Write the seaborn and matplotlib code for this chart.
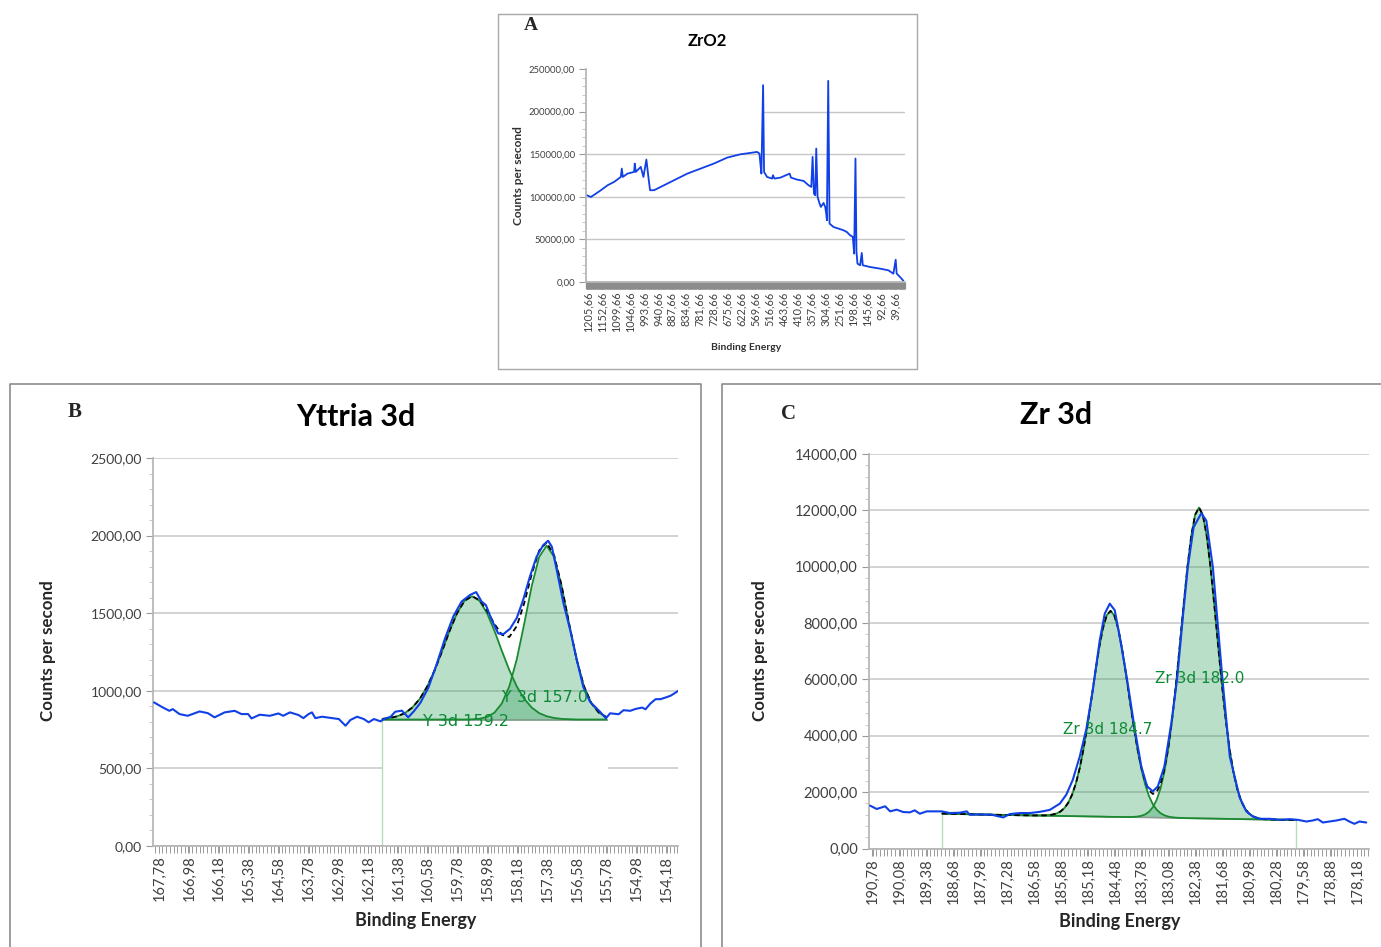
import seaborn as sns
import matplotlib.pyplot as plt
from matplotlib.lines import Line2D
from matplotlib.patches import Rectangle
from matplotlib.ticker import FixedLocator, MultipleLocator, FuncFormatter

# ---------------- panel A : ZrO2 survey ----------------
survey_be = [1210.6, 1195.4, 1176.4, 1157.5, 1132.2, 1107.0, 1081.7, 1077.9, 1074.1, 1056.4,
             1031.1, 1028.6, 1024.8, 1012.2, 1005.8, 995.7, 984.4, 976.8, 970.5, 955.3,
             930.0, 879.5, 828.9, 778.4, 727.9, 677.3, 626.8, 588.9, 563.6, 554.7,
             551.0, 547.2, 540.8, 537.1, 525.7, 506.7, 503.1, 497.9, 475.1, 439.8,
             434.7, 411.9, 386.7, 367.7, 357.6, 352.6, 347.5, 342.5, 338.7, 333.6,
             326.0, 321.0, 310.9, 304.6, 300.8, 298.2, 293.2, 288.1, 273.0, 235.1,
             222.4, 209.8, 199.7, 194.6, 189.6, 185.8, 182.0, 171.9, 165.6, 161.8,
             134.0, 96.1, 64.5, 45.5, 36.7, 32.9, 20.2, 7.6]
survey_cps = [101800, 99800, 103700, 107700, 113500, 117500, 123300, 133100, 123300, 127200,
              129200, 139000, 129200, 133100, 135100, 123300, 143700, 123300, 107700, 107700,
              111600, 119400, 127200, 133100, 139000, 146000, 149900, 151500, 152700, 150700,
              139000, 127200, 231000, 129200, 123300, 121400, 125300, 121400, 122500, 127200,
              122500, 120200, 118600, 113500, 111600, 146800, 103700, 101800, 156600, 99800,
              92000, 88100, 92800, 88100, 80300, 72400, 236100, 68500, 64600, 60700,
              58700, 54800, 52900, 33300, 144900, 35200, 21500, 19600, 34100, 19600,
              17600, 15700, 13700, 9800, 26200, 9800, 5900, 1500]
survey_ticks = [1205.66, 1152.66, 1099.66, 1046.66, 993.66, 940.66, 887.66, 834.66, 781.66,
                728.66, 675.66, 622.66, 569.66, 516.66, 463.66, 410.66, 357.66, 304.66,
                251.66, 198.66, 145.66, 92.66, 39.66]

# ---------------- panel B : Yttria 3d ----------------
yt_be = [167.92, 167.69, 167.51, 167.42, 167.24, 167.02, 166.70, 166.48, 166.30, 166.03,
         165.76, 165.58, 165.40, 165.31, 165.09, 164.82, 164.59, 164.46, 164.28, 164.05,
         163.92, 163.78, 163.69, 163.60, 163.42, 163.15, 162.97, 162.79, 162.66, 162.48,
         162.30, 162.17, 162.03, 161.85, 161.78, 161.58, 161.46, 161.28, 161.11, 160.97,
         160.79, 160.57, 160.35, 160.12, 159.90, 159.68, 159.45, 159.29, 159.14, 159.03,
         158.87, 158.70, 158.56, 158.38, 158.20, 158.03, 157.85, 157.67, 157.49, 157.36,
         157.26, 157.13, 156.95, 156.77, 156.59, 156.42, 156.24, 155.97, 155.81, 155.70,
         155.47, 155.34, 155.16, 155.02, 154.84, 154.75, 154.62, 154.48, 154.35, 154.21,
         154.08, 153.94, 153.85]
yt_cps = [925, 893, 871, 882, 850, 839, 867, 856, 829, 861,
          871, 850, 850, 822, 846, 839, 854, 839, 861, 844,
          824, 850, 861, 824, 833, 824, 818, 775, 812, 833,
          818, 797, 818, 803, 816, 833, 865, 872, 829, 865,
          920, 1020, 1170, 1340, 1480, 1575, 1618, 1636, 1574, 1553,
          1456, 1370, 1365, 1400, 1470, 1585, 1735, 1864, 1939, 1967,
          1928, 1778, 1564, 1392, 1198, 1026, 930, 865, 823, 855,
          849, 875, 871, 883, 892, 881, 918, 946, 946, 957,
          968, 989, 1004]
yt_fit_be = [161.8, 161.6, 161.4, 161.2, 161.0, 160.8, 160.6, 160.4, 160.2, 160.0,
             159.8, 159.6, 159.4, 159.2, 159.0, 158.8, 158.6, 158.4, 158.2, 158.0,
             157.8, 157.6, 157.4, 157.2, 157.0, 156.8, 156.6, 156.4, 156.2, 156.0, 155.8]
yt_fit_p1 = [819, 825, 836, 856, 892, 948, 1028, 1133, 1257, 1387,
             1501, 1580, 1609, 1580, 1501, 1387, 1257, 1133, 1028, 948,
             892, 856, 836, 825, 819, 817, 815, 815, 815, 815, 815]
yt_fit_p2 = [815, 815, 815, 815, 815, 815, 815, 815, 815, 815,
             815, 815, 816, 820, 831, 859, 919, 1029, 1204, 1433,
             1675, 1863, 1935, 1863, 1675, 1433, 1204, 1029, 919, 859, 831]
yt_fit_env = [819, 825, 836, 856, 892, 948, 1028, 1133, 1257, 1387,
              1501, 1580, 1610, 1585, 1517, 1431, 1361, 1347, 1417, 1566,
              1752, 1904, 1956, 1873, 1679, 1435, 1204, 1029, 919, 859, 831]
yt_background = 815
yt_fit_range = [161.81, 155.76]
yt_peak_names = ["Y 3d 159.2", "Y 3d 157.0"]
yt_ticks = [167.78, 166.98, 166.18, 165.38, 164.58, 163.78, 162.98, 162.18, 161.38,
            160.58, 159.78, 158.98, 158.18, 157.38, 156.58, 155.78, 154.98, 154.18]

# ---------------- panel C : Zr 3d ----------------
zr_be = [190.85, 190.68, 190.46, 190.33, 190.16, 189.99, 189.82, 189.69, 189.56, 189.38,
         189.21, 188.99, 188.78, 188.52, 188.34, 188.26, 188.00, 187.69, 187.39, 187.22,
         186.96, 186.70, 186.44, 186.18, 185.92, 185.75, 185.58, 185.40, 185.23, 185.06,
         184.88, 184.75, 184.62, 184.49, 184.36, 184.17, 183.97, 183.80, 183.65, 183.50,
         183.37, 183.20, 183.02, 182.87, 182.72, 182.59, 182.44, 182.24, 182.11, 181.94,
         181.69, 181.50, 181.24, 181.07, 180.90, 180.72, 180.46, 180.20, 179.94, 179.73,
         179.51, 179.34, 179.21, 179.08, 178.91, 178.73, 178.52, 178.39, 178.26, 178.13,
         177.95]
zr_cps = [1521, 1402, 1497, 1318, 1378, 1294, 1282, 1354, 1234, 1318,
          1318, 1318, 1258, 1270, 1318, 1198, 1210, 1198, 1102, 1222,
          1258, 1258, 1300, 1370, 1590, 1910, 2441, 3266, 4233, 5624,
          7392, 8336, 8689, 8453, 7510, 6001, 4233, 2912, 2205, 2028,
          2205, 2912, 4445, 6001, 8218, 9986, 11401, 11896, 11637, 9986,
          6001, 3266, 1800, 1318, 1138, 1054, 1054, 1018, 1042, 1018,
          958, 994, 1042, 922, 958, 994, 1054, 958, 875, 958,
          922]
zr_fit_be = [188.98, 188.0, 187.0, 186.6, 186.3, 186.2, 186.1, 186.0, 185.9, 185.8,
             185.7, 185.6, 185.5, 185.4, 185.3, 185.2, 185.1, 185.0, 184.9, 184.8,
             184.7, 184.6, 184.5, 184.4, 184.3, 184.2, 184.1, 184.0, 183.9, 183.8,
             183.7, 183.6, 183.5, 183.4, 183.3, 183.2, 183.1, 183.0, 182.9, 182.8,
             182.7, 182.6, 182.5, 182.4, 182.3, 182.2, 182.1, 182.0, 181.9, 181.8,
             181.7, 181.6, 181.5, 181.4, 181.3, 181.2, 181.1, 181.0, 180.9, 180.8,
             180.7, 180.6, 180.2, 179.77]
zr_fit_bg = [1240, 1206, 1182, 1173, 1165, 1163, 1161, 1158, 1156, 1153,
             1151, 1149, 1146, 1144, 1141, 1139, 1136, 1134, 1132, 1129,
             1127, 1124, 1122, 1120, 1117, 1115, 1112, 1110, 1108, 1105,
             1103, 1100, 1098, 1096, 1093, 1091, 1088, 1086, 1084, 1081,
             1079, 1076, 1074, 1072, 1069, 1067, 1064, 1062, 1060, 1057,
             1055, 1052, 1050, 1048, 1045, 1043, 1040, 1038, 1036, 1033,
             1031, 1028, 1020, 1012]
zr_fit_p1 = [1240, 1206, 1182, 1173, 1176, 1185, 1206, 1244, 1315, 1434,
             1623, 1909, 2315, 2861, 3553, 4375, 5287, 6223, 7095, 7806,
             8273, 8434, 8268, 7797, 7080, 6204, 5263, 4346, 3520, 2822,
             2272, 1860, 1570, 1377, 1252, 1177, 1133, 1108, 1095, 1086,
             1081, 1076, 1074, 1072, 1069, 1067, 1064, 1062, 1060, 1057,
             1055, 1052, 1050, 1048, 1045, 1043, 1040, 1038, 1036, 1033,
             1031, 1028, 1020, 1012]
zr_fit_p2 = [1240, 1206, 1182, 1173, 1165, 1163, 1161, 1158, 1156, 1153,
             1151, 1149, 1146, 1144, 1141, 1139, 1136, 1134, 1132, 1129,
             1127, 1124, 1122, 1120, 1117, 1117, 1117, 1122, 1134, 1159,
             1210, 1303, 1465, 1728, 2131, 2718, 3519, 4552, 5795, 7191,
             8637, 9993, 11109, 11844, 12099, 11839, 11099, 9979, 8618, 7167,
             5766, 4518, 3481, 2675, 2083, 1675, 1407, 1241, 1143, 1087,
             1057, 1040, 1020, 1012]
zr_fit_env = [1240, 1206, 1182, 1173, 1176, 1185, 1206, 1244, 1315, 1434,
              1623, 1909, 2315, 2861, 3553, 4375, 5287, 6223, 7095, 7806,
              8273, 8434, 8268, 7797, 7080, 6206, 5268, 4358, 3546, 2876,
              2379, 2063, 1937, 2009, 2290, 2804, 3564, 4574, 5806, 7196,
              8639, 9993, 11109, 11844, 12099, 11839, 11099, 9979, 8618, 7167,
              5766, 4518, 3481, 2675, 2083, 1675, 1407, 1241, 1143, 1087,
              1057, 1040, 1020, 1012]
zr_fit_range = [188.98, 179.77]
zr_peak_names = ["Zr 3d 184.7", "Zr 3d 182.0"]
zr_ticks = [190.78, 190.08, 189.38, 188.68, 187.98, 187.28, 186.58, 185.88, 185.18, 184.48,
            183.78, 183.08, 182.38, 181.68, 180.98, 180.28, 179.58, 178.88, 178.18]

W, H = 1381, 947
BLUE = "#1040e6"
GREEN = "#1a8a30"
FILL = "#2e9e5b"
LABEL_GREEN = "#0c8a36"
GRID = "#c6c6c6"
TICK = "#9a9a9a"
TXT = "#404040"

sns.set_theme(style="white")
plt.rcParams["font.family"] = ["Lato", "DejaVu Sans"]

fig = plt.figure(figsize=(W / 100, H / 100), dpi=100)
fig.patch.set_facecolor("white")


def add_ax(left, top, right, bottom):
    return fig.add_axes([left / W, 1 - bottom / H, (right - left) / W, (bottom - top) / H])


def ftext(x, y, s, **kw):
    fig.text(x / W, 1 - y / H, s, ha="center", va="center", **kw)


def fline(xs, ys, **kw):
    fig.add_artist(Line2D([x / W for x in xs], [1 - y / H for y in ys], **kw))


def comma(v, pos=None):
    return f"{v:.2f}".replace(".", ",")


def style(ax, xlim, ylim, xticks, ystep, yminor, xminor, fs_x, fs_y, band=5):
    ax.set_xlim(*xlim)
    ax.set_ylim(*ylim)
    ax.xaxis.set_major_locator(FixedLocator(xticks))
    ax.xaxis.set_minor_locator(MultipleLocator(xminor))
    ax.xaxis.set_major_formatter(FuncFormatter(comma))
    ax.yaxis.set_major_locator(MultipleLocator(ystep))
    ax.yaxis.set_minor_locator(MultipleLocator(yminor))
    ax.yaxis.set_major_formatter(FuncFormatter(comma))
    ax.tick_params(axis="x", which="both", direction="out", length=band, width=0.7,
                   color=TICK, bottom=True, pad=2)
    ax.tick_params(axis="x", which="major", labelrotation=90, labelsize=fs_x, labelcolor=TXT)
    ax.tick_params(axis="y", which="major", direction="out", length=5, width=0.8,
                   color=TICK, left=True, labelsize=fs_y, labelcolor=TXT, pad=3)
    ax.tick_params(axis="y", which="minor", direction="out", length=3, width=0.6,
                   color="#c0c0c0", left=True)
    for s in ["top", "right"]:
        ax.spines[s].set_visible(False)
    ax.spines["left"].set_color("#b5b5b5")
    ax.spines["bottom"].set_color("#b5b5b5")
    ax.set_xlabel("")
    ax.set_ylabel("")
    ax.set_facecolor("white")


# ---------------- panel A ----------------
fig.add_artist(Rectangle((497.5 / W, 1 - 369 / H), 419.5 / W, 355 / H, transform=fig.transFigure,
                         fill=False, edgecolor="#a8a8a8", lw=1))
axA = add_ax(586, 69, 905, 282)
style(axA, (1214, 1.3), (0, 250000), survey_ticks, 50000, 10000, 2, 7.8, 6.8, band=5)
axA.tick_params(axis="x", which="both", color="#8c8c8c", width=0.9)
for level in [50000, 100000, 150000]:
    axA.axhline(level, color=GRID, lw=1, zorder=0)
spike = survey_be[survey_cps.index(max(survey_cps[:40]))]
axA.hlines(200000, spike, 1.3, color=GRID, lw=1, zorder=0)
sns.lineplot(x=survey_be, y=survey_cps, ax=axA, color=BLUE, lw=1.3, sort=False, estimator=None)
ftext(531, 26, "A", fontsize=14, fontweight="bold", family="Liberation Serif")
ftext(707, 41, "ZrO2", fontsize=12, fontweight="bold", color="black")
ftext(518, 176, "Counts per second", fontsize=8.6, fontweight="bold", rotation=90, color="#303030")
ftext(746, 347, "Binding Energy", fontsize=7.5, fontweight="bold", color="#303030")

# ---------------- panel B ----------------
fline([9.5, 9.5, 701, 701], [947, 384.5, 384.5, 947], color="#8c8c8c", lw=1.2)
axB = add_ax(153, 458, 678, 846)
style(axB, (167.95, 153.88), (0, 2500), yt_ticks, 500, 100, 0.1, 10.5, 10)
axB.grid(axis="y", color=GRID, lw=1.1)
axB.grid(axis="x", visible=False)
axB.set_axisbelow(True)
axB.fill_between(yt_fit_range, 0, yt_background, color="white", zorder=1, lw=0)
axB.vlines(yt_fit_range[0], 0, yt_background, color="#b5dcbf", lw=1, zorder=2)
for comp in [yt_fit_p1, yt_fit_p2]:
    axB.fill_between(yt_fit_be, yt_background, comp, color=FILL, alpha=0.33, lw=0, zorder=2)
axB.hlines(yt_background, yt_fit_range[0], yt_fit_range[1], color="#7d9884", lw=1.2, zorder=3)
for comp in [yt_fit_p1, yt_fit_p2]:
    sns.lineplot(x=yt_fit_be, y=comp, ax=axB, color=GREEN, lw=1.3, sort=False, estimator=None, zorder=4)
sns.lineplot(x=yt_fit_be, y=yt_fit_env, ax=axB, color="black", lw=1.3, linestyle=(0, (3, 2)),
             sort=False, estimator=None, zorder=5)
sns.lineplot(x=yt_be, y=yt_cps, ax=axB, color=BLUE, lw=1.5, sort=False, estimator=None, zorder=6)
axB.text(160.71, 801, yt_peak_names[0], color=LABEL_GREEN, fontsize=11.5, family="DejaVu Sans",
         ha="left", va="center", zorder=7)
axB.text(158.60, 958, yt_peak_names[1], color=LABEL_GREEN, fontsize=11.5, family="DejaVu Sans",
         ha="left", va="center", zorder=7)
ftext(75, 412, "B", fontsize=15, fontweight="bold", family="Liberation Serif")
ftext(356, 417, "Yttria 3d", fontsize=22, fontweight="bold", color="black")
ftext(48, 651, "Counts per second", fontsize=12.2, fontweight="bold", rotation=90, color="#262626")
ftext(416, 920, "Binding Energy", fontsize=13, fontweight="bold", color="#262626")

# ---------------- panel C ----------------
fline([722, 722, 1381], [947, 384.5, 384.5], color="#8c8c8c", lw=1.2)
axC = add_ax(869, 454, 1369, 848.5)
style(axC, (190.88, 177.88), (0, 14000), zr_ticks, 2000, 400, 0.1, 10.5, 10.5)
axC.grid(axis="y", color=GRID, lw=1.1)
axC.grid(axis="x", visible=False)
axC.set_axisbelow(True)
axC.vlines(zr_fit_range, 0, [zr_fit_bg[0], zr_fit_bg[-1]], color="#b5dcbf", lw=1, zorder=2)
for comp in [zr_fit_p1, zr_fit_p2]:
    axC.fill_between(zr_fit_be, zr_fit_bg, comp, color=FILL, alpha=0.33, lw=0, zorder=2)
sns.lineplot(x=zr_fit_be, y=zr_fit_bg, ax=axC, color="#8f9a92", lw=1.2, sort=False, estimator=None, zorder=3)
for comp in [zr_fit_p1, zr_fit_p2]:
    sns.lineplot(x=zr_fit_be, y=comp, ax=axC, color=GREEN, lw=1.3, sort=False, estimator=None, zorder=4)
sns.lineplot(x=zr_fit_be, y=zr_fit_env, ax=axC, color="black", lw=1.3, linestyle=(0, (3, 2)),
             sort=False, estimator=None, zorder=5)
sns.lineplot(x=zr_be, y=zr_cps, ax=axC, color=BLUE, lw=1.5, sort=False, estimator=None, zorder=6)
axC.text(185.84, 4230, zr_peak_names[0], color=LABEL_GREEN, fontsize=11, family="DejaVu Sans",
         ha="left", va="center", zorder=7)
axC.text(183.45, 6040, zr_peak_names[1], color=LABEL_GREEN, fontsize=11, family="DejaVu Sans",
         ha="left", va="center", zorder=7)
ftext(788, 414, "C", fontsize=15, fontweight="bold", family="Liberation Serif")
ftext(1056, 415, "Zr 3d", fontsize=22, fontweight="bold", color="black")
ftext(760, 651, "Counts per second", fontsize=12.2, fontweight="bold", rotation=90, color="#262626")
ftext(1120, 921, "Binding Energy", fontsize=13, fontweight="bold", color="#262626")

fig.savefig("out.png", dpi=100, facecolor="white")
